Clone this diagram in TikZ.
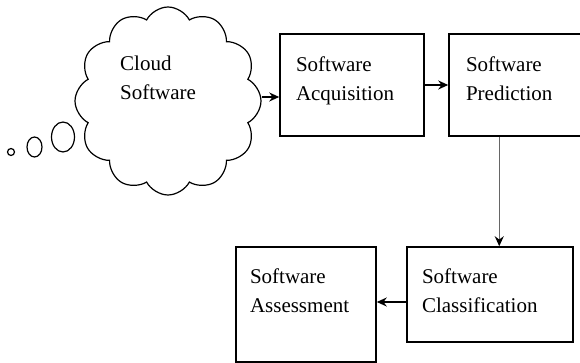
\documentclass[tikz,border=0pt]{standalone}
\usepackage{fontspec}
\setmainfont{Liberation Serif}
\usetikzlibrary{positioning,arrows,arrows.meta,calc,shapes}
\tikzset{
    stage/.style = {
        draw,
        shape=rectangle,
        line width=1.5pt,
        align=left,
        inner xsep=15pt,
        font=\fontsize{21}{29}\selectfont
    },
    thought/.style = {
        draw,
        shape=cloud,
        cloud puffs=12,
        cloud puff arc=125,
        aspect=1,
        minimum width=186pt,
        minimum height=188pt,
        line width=1.2pt
    },
    bubble/.style = {
        line width=1.2pt
    },
    flow/.style = {
        draw,
        line width=1.5pt
    },
    >={Stealth[length=10pt,width=9pt]},
}
\newcommand{\lowpad}[1]{\rule[-#1]{0pt}{#1}}

\begin{document}
\begin{tikzpicture}[x=1pt,y=-1pt]
            \useasboundingbox (0,0) rectangle (580,363);

            \node[thought] (cloud) at (168,101) {};
            \node[anchor=north west, inner sep=0pt, align=left, font=\fontsize{21}{29}\selectfont] (cloudtext) at (120,56) {Cloud\\Software};

            \draw[bubble] (11,152) circle [radius=3.5];
            \draw[bubble] (34.5,147) ellipse [x radius=7.5, y radius=10];
            \draw[bubble] (63,137) ellipse [x radius=11.5, y radius=15];

            \node[stage, minimum height=102pt, text width=112pt, inner xsep=16pt] (acq) at (352,85) {Software\\Acquisition\lowpad{12pt}};
            \node[stage, minimum height=102pt, text width=99pt, inner xsep=17pt] (pred) at (515.5,85) {Software\\Prediction\lowpad{12pt}};
            \node[stage, minimum height=95pt, text width=136pt] (class) at (490,294.5) {Software\\Classification\lowpad{8pt}};
            \node[stage, minimum height=115pt, text width=112pt, inner xsep=14pt] (assess) at (306,304.5) {Software\\Assessment\lowpad{28pt}};

            \coordinate (cloudout) at ($(cloud.east)+(0,-4)$);
            \coordinate (drop) at ($(pred.south west)+(51,0)$);
            \coordinate (back) at ($(class.west)+(0,7.5)$);

            \path[flow, ->] (cloudout) -- (cloudout -| acq.west);
            \path[flow, ->] (acq.east) -- (pred.west);
            \path[flow, -{Stealth[length=10pt,width=9pt,black]}, black!60] (drop) -- (drop |- class.north);
            \path[flow, ->] (back) -- (back -| assess.east);

        \end{tikzpicture}
\end{document}
